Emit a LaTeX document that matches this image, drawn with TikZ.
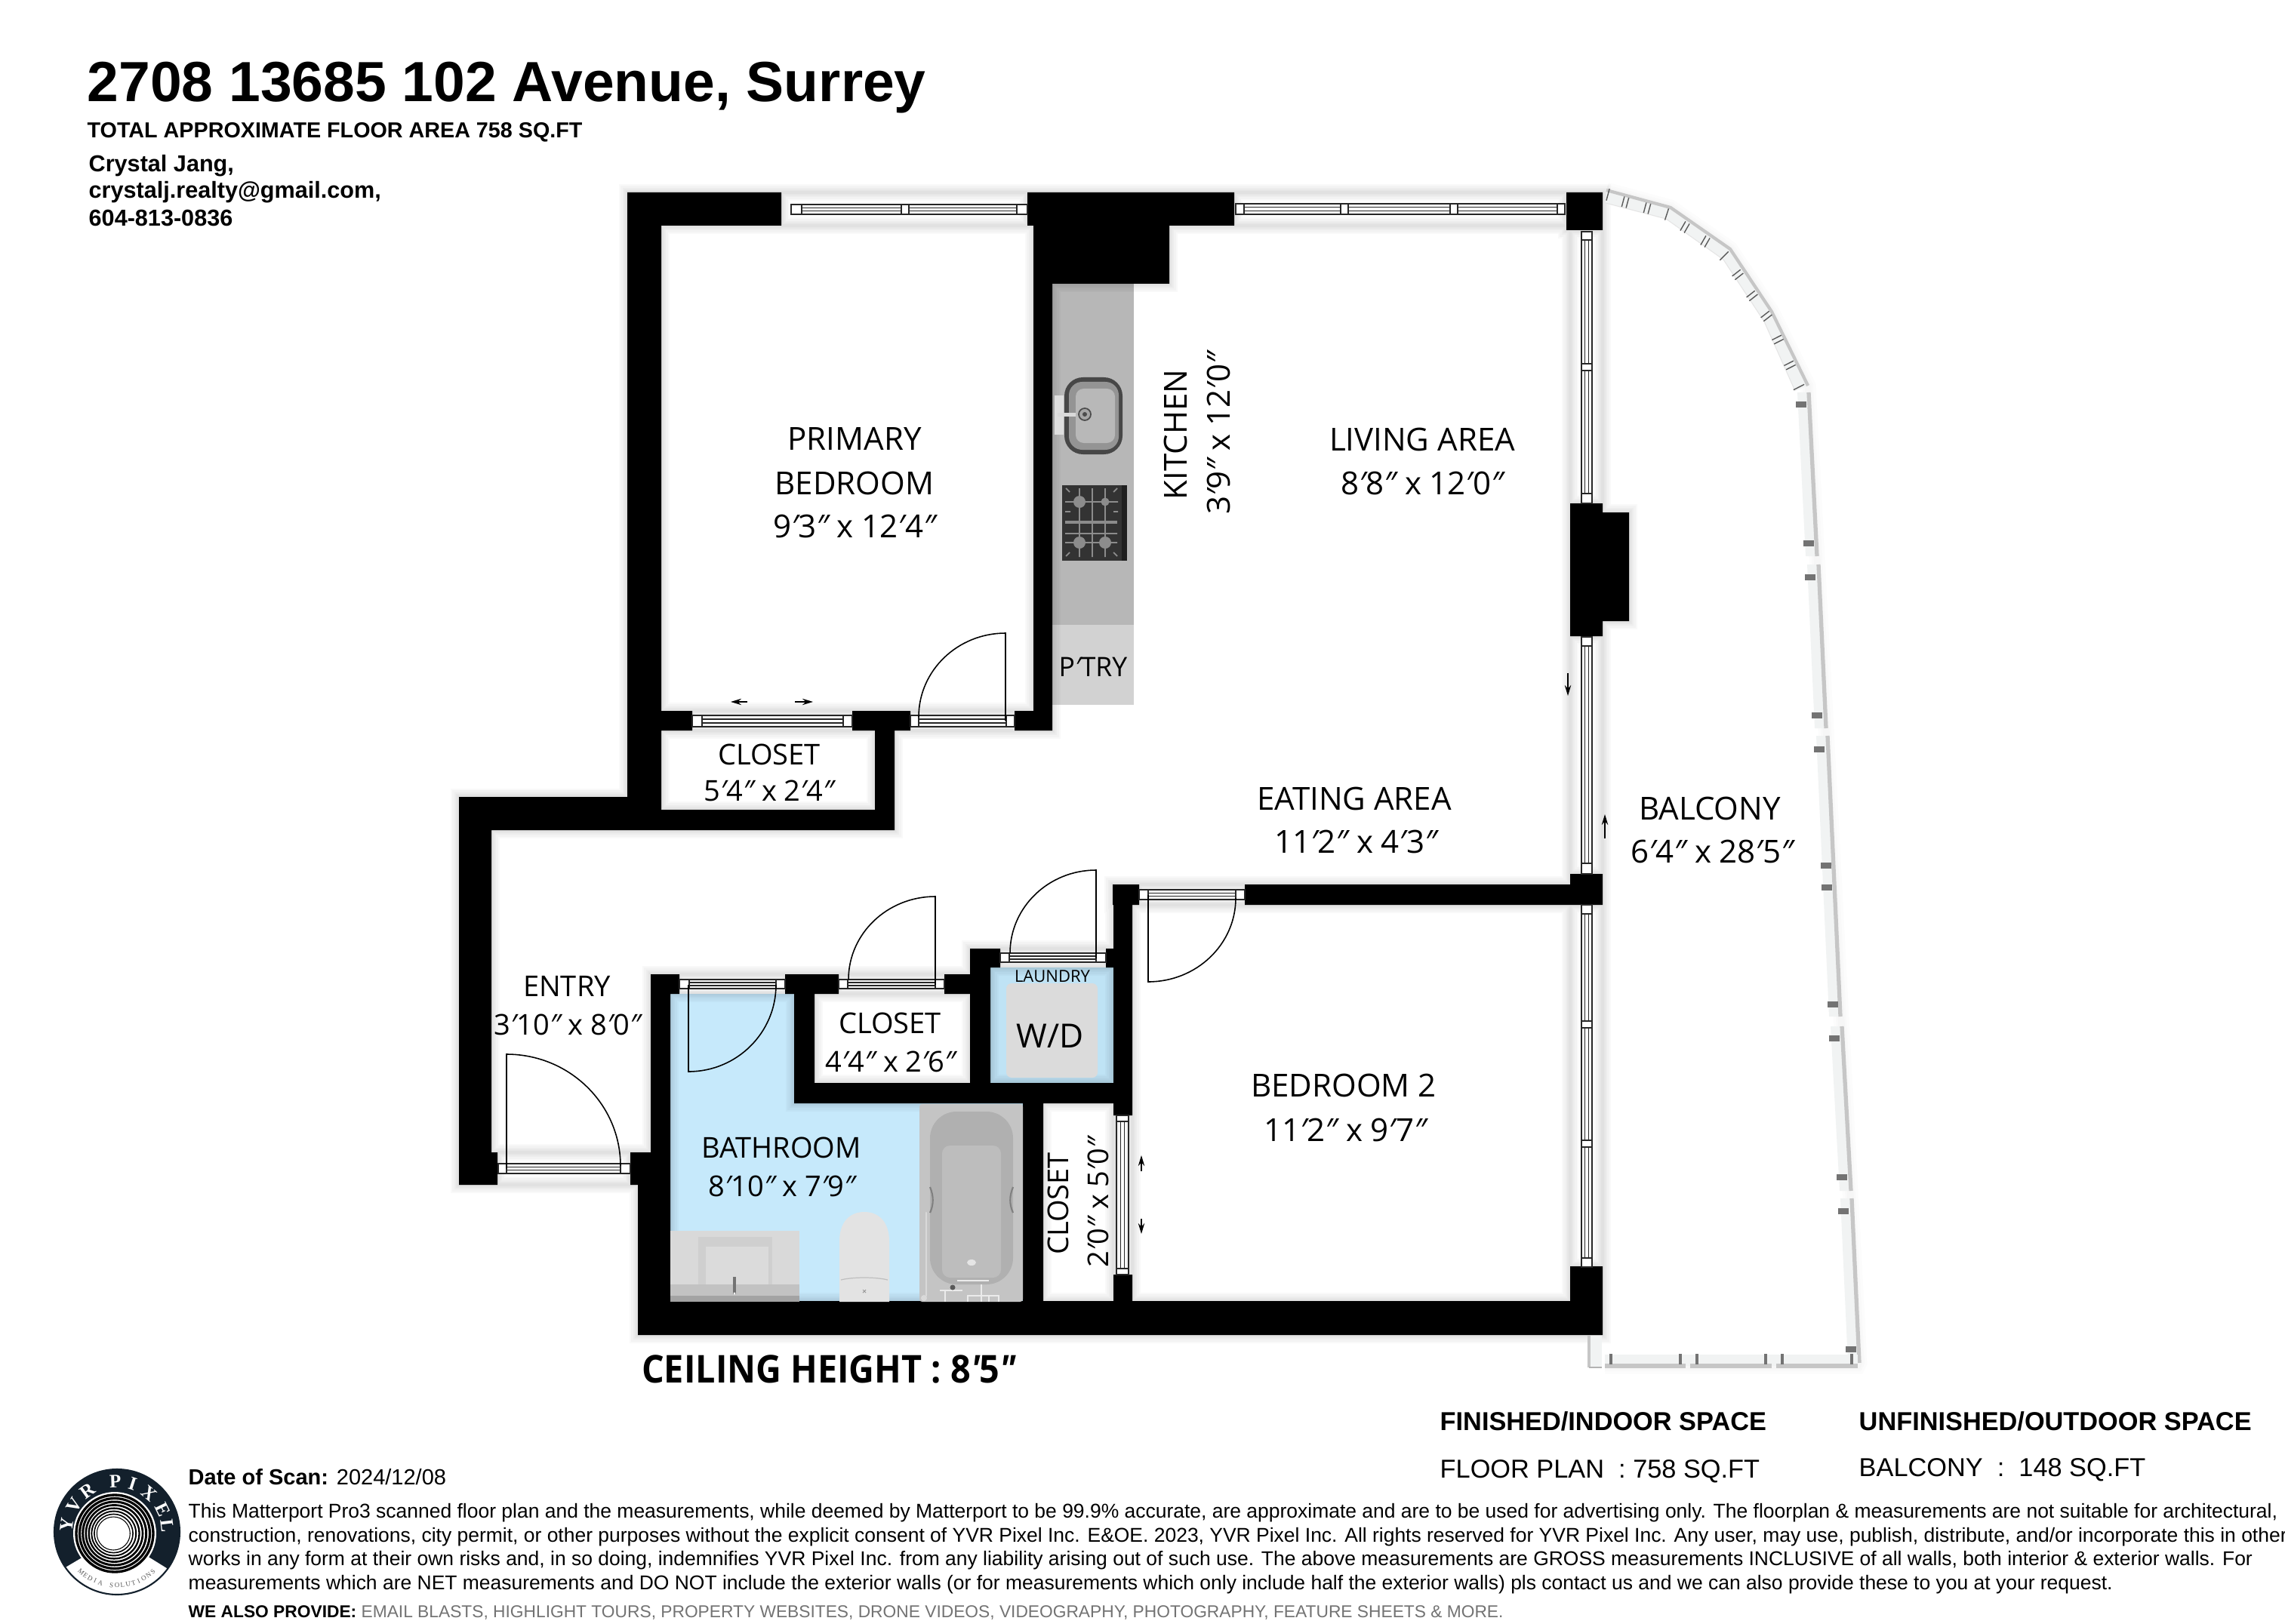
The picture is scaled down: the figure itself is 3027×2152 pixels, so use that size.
\documentclass[tikz,border=0pt]{standalone}
\usepackage{fontspec}
\setmainfont{Liberation Sans}
\newfontfamily\roomf{Open Sans}
\newfontfamily\ceilf[FakeStretch=0.92]{Open Sans}
\newfontfamily\logof{Liberation Serif}
\usetikzlibrary{arrows.meta}
\definecolor{bathblue}{HTML}{C6E9FB}
\definecolor{laundryblue}{HTML}{BFE3F5}
\definecolor{counter}{HTML}{B7B7B7}
\definecolor{pantry}{HTML}{D2D2D2}
\definecolor{railgray}{HTML}{C6C6C6}
\definecolor{railband}{HTML}{F1F3F3}
\definecolor{logodark}{HTML}{13202C}
\newcommand\fpx[1]{\pgfmathsetmacro\fpxv{#1*0.28453}\fontsize{\fpxv pt}{\fpxv pt}\selectfont}
\newcommand\pfeet{{\itshape ′}}
\newcommand\pinch{{\itshape ″}}
\newcommand\rc[4]{(#1,#2) rectangle (#3,#4)}
\newcommand\wallpath{
 \rc{831}{255}{876}{1100} \rc{831}{255}{1035}{299} \rc{1361}{255}{1635}{299}
 \rc{1369}{299}{1549}{376} \rc{1369}{376}{1394}{968} \rc{1344}{942}{1394}{968}
 \rc{876}{942}{917}{968} \rc{1129}{942}{1206}{968} \rc{1159}{942}{1185}{1100}
 \rc{608}{1056}{876}{1100} \rc{876}{1073}{1185}{1100}
 \rc{608}{1056}{651}{1570} \rc{608}{1527}{659}{1570}
 \rc{835}{1527}{862}{1570} \rc{845}{1570}{888}{1769} \rc{862}{1291}{888}{1570}
 \rc{862}{1291}{900}{1317} \rc{1040}{1291}{1111}{1317} \rc{1052}{1317}{1079}{1462}
 \rc{1251}{1291}{1285}{1317} \rc{1285}{1257}{1312}{1462} \rc{1285}{1257}{1325}{1282}
 \rc{1465}{1257}{1475}{1282} \rc{1475}{1172}{1500}{1478} \rc{1474}{1172}{1509}{1199}
 \rc{1649}{1172}{2080}{1199} \rc{2080}{1158}{2123}{1199}
 \rc{1052}{1435}{1500}{1462} \rc{1355}{1462}{1382}{1769} \rc{1475}{1689}{1500}{1769}
 \rc{845}{1724}{2123}{1769} \rc{2080}{1678}{2123}{1769}
 \rc{2075}{255}{2123}{305} \rc{2080}{667}{2123}{843} \rc{2123}{679}{2158}{823}
}
\newcommand\gappath{
 \rc{1035}{255}{1361}{299} \rc{1635}{255}{2075}{299} \rc{2080}{305}{2123}{667}
 \rc{2080}{843}{2123}{1158} \rc{2080}{1199}{2123}{1678} \rc{917}{942}{1129}{968}
 \rc{1206}{942}{1344}{968} \rc{659}{1527}{835}{1570} \rc{900}{1291}{1040}{1317}
 \rc{1111}{1291}{1251}{1317} \rc{1325}{1257}{1465}{1282} \rc{1509}{1172}{1649}{1199}
 \rc{1475}{1478}{1500}{1689}
}
\newcommand\hwin[5]{
 \draw[winline] \rc{#1}{#3}{#2}{#4};
 \draw[winline] (#1,{#3+(#4-#3)/3}) -- (#2,{#3+(#4-#3)/3}) (#1,{#3+2*(#4-#3)/3}) -- (#2,{#3+2*(#4-#3)/3});
 \foreach \a/\b in {#5} { \draw[winline,fill=white] \rc{\a}{#3}{\b}{#4}; }
}
\newcommand\vwin[5]{
 \draw[winline] \rc{#3}{#1}{#4}{#2};
 \draw[winline] ({#3+(#4-#3)/3},#1) -- ({#3+(#4-#3)/3},#2) ({#3+2*(#4-#3)/3},#1) -- ({#3+2*(#4-#3)/3},#2);
 \foreach \a/\b in {#5} { \draw[winline,fill=white] \rc{#3}{\a}{#4}{\b}; }
}
\newcommand\door[6]{
 \draw[doorline] (#1,#2) -- (#3,#4) .. controls ({#3+.5523*(#5-#3)},#4) and (#5,{#6+.5523*(#4-#6)}) .. (#5,#6);
}
\newcommand\railseg[4]{
 \fill[railband] (#1,#2) -- (#3,#4) -- ({#3-15},#4) -- ({#1-15},#2) -- cycle;
 \draw[railline] (#1,#2) -- (#3,#4);
}
\begin{document}
\begin{tikzpicture}[x=0.01cm,y=-0.01cm,
 winline/.style={line width=0.45pt,draw=black!85},
 doorline/.style={line width=0.45pt,draw=black},
 railline/.style={line width=1.5pt,draw=railgray},
 railmark/.style={line width=0.9pt,draw=black!55},
 tickline/.style={line width=0.4pt,draw=black!65},
 shade1/.style={draw=black,draw opacity=0.025,line join=miter},
 smallarrow/.style={line width=0.35pt,-{Stealth[length=4pt,width=2.4pt]}},
 room/.style={inner sep=0pt,anchor=base,font=\roomf\fpx{42}},
 roomsmall/.style={inner sep=0pt,anchor=base,font=\roomf\fpx{38}},
 head/.style={inner sep=0pt,anchor=base west,font=\bfseries\fpx{30.6}},
 body/.style={inner sep=0pt,anchor=base west,font=\fpx{26.45}},
 stoveline/.style={draw=black!45,line width=0.5pt},
 faucet/.style={draw=black!8,line width=0.7pt},
]
\useasboundingbox (0,0) rectangle (3027,2152);
\fill[white] (0,0) rectangle (3027,2152);

% room colours and counter
\fill[bathblue] (888,1317) -- (1052,1317) -- (1052,1462) -- (1355,1462) -- (1355,1724) -- (888,1724) -- cycle;
\fill[laundryblue] \rc{1312}{1282}{1475}{1435};
\fill[counter] \rc{1394}{376}{1502}{828};
\fill[pantry] \rc{1394}{828}{1502}{934};

% soft wall shadow
\foreach \w in {6.5,5,3.6,2.4,1.3} {
  \path[shade1,line width=\w pt] \wallpath \gappath;
}
% balcony rail shadow
\foreach \w in {6,4,2.5} {
  \draw[black,draw opacity=0.012,line width=\w pt] (2128,252) -- (2213,275) -- (2292,330) -- (2347,413) -- (2395,511) -- (2463,1806) -- (2461,1810) -- (2126,1810);
}

% balcony rail, curved part
\fill[railband] (2128,252) -- (2213,275) -- (2292,330) -- (2347,413) -- (2395,511) -- (2378,518) -- (2337,426) -- (2283,344) -- (2207,290) -- (2127,269) -- cycle;
\draw[railgray,line width=1.2pt] (2128,252) -- (2213,275) -- (2292,330) -- (2347,413) -- (2395,511);
\draw[black!10,line width=0.3pt] (2127,269) -- (2207,290) -- (2283,344) -- (2337,426) -- (2378,518);
\foreach \x/\y/\a in {2153/268/15,2182/276/15,2232/301/30,2259/320/30,2302/364/52,2321/392/52,2340/419/52,2355/450/63,2371/484/63} {
  \begin{scope}[shift={(\x,\y)},rotate=-\a]
  \draw[tickline] (-3,-7) -- (-3,7) (3,-7) -- (3,7);
  \end{scope}
}
\foreach \x/\y/\a in {2130/258/15,2208/284/18,2284/339/45,2383/513/63} {
  \begin{scope}[shift={(\x,\y)},rotate=-\a]
  \draw[tickline] (0,-8) -- (0,8);
  \end{scope}
}
% balcony rail, straight parts
\railseg{2396}{520}{2407}{737}
\railseg{2409}{748}{2419}{965}
\railseg{2421}{975}{2438}{1347}
\railseg{2440}{1360}{2452}{1578}
\railseg{2453}{1588}{2463}{1806}
\foreach \x/\y in {2386/536,2396/720,2398/765,2407/948,2410/993,2419/1147,2420/1176,2428/1331,2430/1376,2440/1560,2442/1605,2452/1788} {
  \draw[railmark] ({\x-7},{\y-2}) -- ({\x+7},{\y-2}) ({\x-7},{\y+2}) -- ({\x+7},{\y+2});
}
% balcony bottom rail
\fill[railband] \rc{2126}{1795}{2461}{1810};
\foreach \a/\b in {2126/2233,2239/2347,2353/2461} { \draw[railline] (\a,1810) -- (\b,1810); }
\foreach \x in {2134,2226,2248,2339,2361,2453} { \draw[railmark,line width=1pt] (\x,1794) -- (\x,1808); }
\fill[railband] \rc{2103}{1770}{2122}{1812};
\draw[railgray,line width=1.2pt] (2105,1770) -- (2105,1812);
\draw[black!30,line width=0.3pt] (2105,1812) -- (2122,1812);

% walls
\fill[black] \wallpath;

% windows
\hwin{1048}{1361}{271}{284}{1048/1062,1194/1204,1347/1361}
\hwin{1637}{2073}{270}{284}{1637/1648,1776/1786,1921/1931,2063/2073}
\vwin{307}{667}{2095}{2109}{307/318,482/491,654/667}
\vwin{844}{1158}{2095}{2109}{844/856,1144/1158}
\vwin{1199}{1678}{2095}{2109}{1199/1211,1353/1362,1511/1520,1667/1679}
\hwin{917}{1129}{948}{963}{917/930,1117/1129}
\hwin{1206}{1344}{948}{963}{1206/1217,1333/1344}
\hwin{660}{835}{1542}{1555}{660/671,822/835}
\hwin{900}{1040}{1298}{1310}{900/913,1028/1040}
\hwin{1111}{1251}{1298}{1310}{1111/1123,1239/1251}
\hwin{1325}{1465}{1263}{1275}{1325/1337,1452/1465}
\hwin{1509}{1649}{1179}{1192}{1509/1521,1637/1649}
\vwin{1478}{1689}{1479}{1495}{1478/1486,1681/1689}

% doors
\door{1332}{955}{1332}{839}{1217}{950}
\door{671}{1548}{671}{1397}{822}{1545}
\door{912}{1305}{912}{1420}{1028}{1305}
\door{1239}{1305}{1239}{1188}{1124}{1298}
\door{1452}{1270}{1452}{1153}{1338}{1263}
\door{1521}{1186}{1521}{1301}{1637}{1190}

% sliding arrows
\draw[smallarrow] (990,930) -- (968,930);
\draw[smallarrow] (1053,930) -- (1077,930);
\draw[smallarrow] (2077,892) -- (2077,922);
\draw[smallarrow] (2126,1111) -- (2126,1079);
\draw[smallarrow] (1512,1552) -- (1512,1531);
\draw[smallarrow] (1512,1615) -- (1512,1635);

% kitchen sink
\fill[black!13] \rc{1397}{524}{1409}{576};
\fill[black!72,rounded corners=7pt] \rc{1410}{500}{1487}{602};
\fill[black!42,rounded corners=5pt] \rc{1416}{506}{1482}{596};
\fill[black!28,rounded corners=3pt] \rc{1425}{515}{1477}{587};
\fill[black!15] \rc{1401}{547}{1425}{552};
\draw[black!70,fill=black!35,line width=0.5pt] (1437,549) circle[radius=8];
\fill[black!70] (1437,549) circle[radius=3];
% stove
\fill[black!80] \rc{1407}{643}{1493}{743};
\fill[black!88] \rc{1486}{643}{1493}{743};
\draw[stoveline] (1430,647) -- (1430,738) (1447,647) -- (1447,738) (1464,647) -- (1464,738)
  (1411,665) -- (1481,665) (1411,719) -- (1480,719) (1411,707) -- (1480,707)
  (1412,647) -- (1417,652) (1480,647) -- (1475,652) (1412,737) -- (1417,732) (1480,737) -- (1475,732)
  (1411,678) -- (1418,678) (1475,678) -- (1481,678);
\draw[black!45,line width=1.2pt] (1411,692) -- (1480,692);
\fill[black!45] (1430,665) circle[radius=8] (1464,665) circle[radius=5.5] (1430,719) circle[radius=8] (1464,719) circle[radius=8];

% bathtub
\fill[black!23,rounded corners=1pt] \rc{1218}{1463}{1355}{1725};
\fill[black!31,rounded corners=10pt] \rc{1232}{1473}{1342}{1702};
\fill[black!26,rounded corners=3pt] \rc{1248}{1518}{1326}{1693};
\fill[white!90!black] (1287,1673) ellipse[x radius=6,y radius=4];
\draw[white!85!black,line width=0.8pt,line cap=round] (1227,1607) -- (1227,1717);
\fill[white!85!black] (1224,1720) circle[radius=4];
\draw[black!50,line width=0.6pt] (1232,1573) .. controls (1237,1585) and (1237,1596) .. (1232,1607) (1342,1573) .. controls (1337,1585) and (1337,1596) .. (1342,1607);
\draw[faucet] (1245,1710) -- (1275,1710) (1252,1710) -- (1252,1725) (1282,1725) -- (1282,1717) -- (1323,1717) -- (1323,1725) (1300,1702) -- (1300,1725) (1310,1717) -- (1310,1725) (1268,1697) -- (1310,1697);
\fill[black!65] (1262,1706) circle[radius=3.5];
% toilet
\fill[black!11] (1112,1725) -- (1112,1645) .. controls (1112,1620) and (1125,1606) .. (1145,1606) .. controls (1165,1606) and (1178,1620) .. (1178,1645) -- (1178,1725) -- cycle;
\draw[black!25,line width=0.35pt] (1114,1696) .. controls (1130,1692) and (1160,1692) .. (1176,1696);
\draw[black!40,line width=0.3pt] (1143,1709) -- (1147,1713) (1147,1709) -- (1143,1713);
% vanity
\fill[black!15] \rc{888}{1631}{1059}{1725};
\fill[black!19] \rc{925}{1639}{1023}{1702};
\fill[black!14] \rc{935}{1652}{1018}{1702};
\fill[black!24] \rc{888}{1702}{1059}{1717};
\fill[black!36] \rc{888}{1717}{1059}{1725};
\fill[black!55] \rc{971}{1692}{975}{1715};
\fill[white] (973,1714) circle[radius=1.6];
% washer dryer
\fill[black!14,rounded corners=2pt] \rc{1333}{1303}{1454}{1428};

% header text
\node[inner sep=0pt,anchor=base west,font=\bfseries\fpx{75}] (title) at (115,135) {2708 13685 102 Avenue, Surrey};
\node[inner sep=0pt,anchor=base west,font=\bfseries\fpx{28.7}] (subt) at (115,183) {TOTAL APPROXIMATE FLOOR AREA 758 SQ.FT};
\node[head] (agent1) at (117,228) {Crystal Jang,};
\node[head] (agent2) at (117,263) {crystalj.realty@gmail.com,};
\node[head] (agent3) at (117,300) {604-813-0836};

% room labels
\node[room] (r1a) at (1132,596) {PRIMARY};
\node[room] (r1b) at (1132,655) {BEDROOM};
\node[room] (r1c) at (1132,712) {9\pfeet3\pinch{} x 12\pfeet4\pinch};
\node[room,rotate=90] (k1) at (1572,576) {KITCHEN};
\node[room,rotate=90] (k2) at (1629,574) {3\pfeet9\pinch{} x 12\pfeet0\pinch};
\node[room] (l1) at (1884,597) {LIVING AREA};
\node[room] (l2) at (1884,655) {8\pfeet8\pinch{} x 12\pfeet0\pinch};
\node[inner sep=0pt,anchor=base,font=\roomf\fpx{35.5}] (p1) at (1448,896) {P\pfeet TRY};
\node[roomsmall] (c1a) at (1019,1013) {CLOSET};
\node[roomsmall] (c1b) at (1019,1061) {5\pfeet4\pinch{} x 2\pfeet4\pinch};
\node[room] (e1) at (1794,1073) {EATING AREA};
\node[room] (e2) at (1796,1130) {11\pfeet2\pinch{} x 4\pfeet3\pinch};
\node[room] (b1) at (2265,1086) {BALCONY};
\node[room] (b2) at (2268,1143) {6\pfeet4\pinch{} x 28\pfeet5\pinch};
\node[roomsmall] (en1) at (751,1320) {ENTRY};
\node[roomsmall] (en2) at (752,1371) {3\pfeet10\pinch{} x 8\pfeet0\pinch};
\node[roomsmall] (c2a) at (1179,1369) {CLOSET};
\node[roomsmall] (c2b) at (1180,1420) {4\pfeet4\pinch{} x 2\pfeet6\pinch};
\node[inner sep=0pt,anchor=base,font=\roomf\fpx{22}] (la) at (1394,1301) {LAUNDRY};
\node[inner sep=0pt,anchor=base,font=\roomf\fpx{44}] (wd) at (1391,1388) {W/D};
\node[roomsmall] (ba1) at (1035,1534) {BATHROOM};
\node[roomsmall] (ba2) at (1036,1585) {8\pfeet10\pinch{} x 7\pfeet9\pinch};
\node[room] (be1) at (1780,1453) {BEDROOM 2};
\node[room] (be2) at (1782,1512) {11\pfeet2\pinch{} x 9\pfeet7\pinch};
\node[roomsmall,rotate=90] (c3a) at (1415,1595) {CLOSET};
\node[roomsmall,rotate=90] (c3b) at (1468,1593) {2\pfeet0\pinch{} x 5\pfeet0\pinch};
\node[inner sep=0pt,anchor=base,font=\ceilf\bfseries\fpx{50.8}] (ceil) at (1098,1832) {CEILING HEIGHT : 8\pfeet5\pinch};

% area summary
\node[inner sep=0pt,anchor=base west,font=\bfseries\fpx{34.3}] (s1) at (1907,1895) {FINISHED/INDOOR SPACE};
\node[inner sep=0pt,anchor=base west,font=\bfseries\fpx{34.3}] (s2) at (2462,1895) {UNFINISHED/OUTDOOR SPACE};
\node[inner sep=0pt,anchor=base west,font=\fpx{34.3}] (s3) at (1907,1958) {FLOOR PLAN\ \ : 758 SQ.FT};
\node[inner sep=0pt,anchor=base west,font=\fpx{34.3}] (s4) at (2462,1956) {BALCONY\ \ :\ \ 148 SQ.FT};

% notes
\node[inner sep=0pt,anchor=base west,font=\fpx{29}] (d1) at (249,1967) {\textbf{Date of Scan:} 2024/12/08};
\node[body] (n1) at (249,2011) {This Matterport Pro3 scanned floor plan and the measurements, while deemed by Matterport to be 99.9\% accurate, are approximate and are to be used for advertising only. The floorplan \& measurements are not suitable for architectural,};
\node[body] (n2) at (249,2043) {construction, renovations, city permit, or other purposes without the explicit consent of YVR Pixel Inc. E\&OE. 2023, YVR Pixel Inc. All rights reserved for YVR Pixel Inc. Any user, may use, publish, distribute, and/or incorporate this in other};
\node[body] (n3) at (249,2074) {works in any form at their own risks and, in so doing, indemnifies YVR Pixel Inc. from any liability arising out of such use. The above measurements are GROSS measurements INCLUSIVE of all walls, both interior \& exterior walls. For};
\node[body] (n4) at (249,2106) {measurements which are NET measurements and DO NOT include the exterior walls (or for measurements which only include half the exterior walls) pls contact us and we can also provide these to you at your request.};
\node[inner sep=0pt,anchor=base west,font=\fpx{22.75}] (w1) at (249,2143) {\textbf{WE ALSO PROVIDE:} \textcolor{black!55}{EMAIL BLASTS, HIGHLIGHT TOURS, PROPERTY WEBSITES, DRONE VIDEOS, VIDEOGRAPHY, PHOTOGRAPHY, FEATURE SHEETS \& MORE.}};

% logo
\fill[logodark] (155,2030) circle[radius=83];
\begin{scope}
\clip (155,2030) circle[radius=83];
\fill[white] (70,2085) -- (85,2078) -- (112,2062) -- (195,2062) -- (224,2080) -- (240,2085) -- (240,2120) -- (70,2120) -- cycle;
\end{scope}
\draw[logodark,line width=0.6pt] (155,2030) circle[radius=83];
\fill[white] (152,2032) circle[radius=55];
\foreach \r/\w/\d in {51/0.95/0,46.5/0.9/0,42/0.85/0.3,37.6/0.75/0.6,33.4/0.65/0.9,29.4/0.55/1.2,25.6/0.45/1.5,22/0.3/1.7} {
  \draw[black,line width=\w pt] ({152-\d},2032) circle[radius=\r];
}
\foreach \c/\a [count=\i] in {Y/-82,V/-58,R/-36,P/-2,I/18,X/40,E/64,L/83} {
  \node[inner sep=0pt,text=white,font=\logof\bfseries\fpx{25},rotate=-\a] (ltop\i) at ({155+67*sin(\a)},{2030-67*cos(\a)}) {\c};
}
\foreach \c/\a [count=\i] in {M/-42,E/-36,D/-30,I/-24,A/-18,S/-6,O/0,L/6,U/12,T/18,I/24,O/30,N/36,S/42} {
  \node[inner sep=0pt,text=black!65,font=\logof\fpx{9},rotate=\a] (lbot\i) at ({155+71*sin(\a)},{2030+71*cos(\a)}) {\c};
}
\end{tikzpicture}
\end{document}
